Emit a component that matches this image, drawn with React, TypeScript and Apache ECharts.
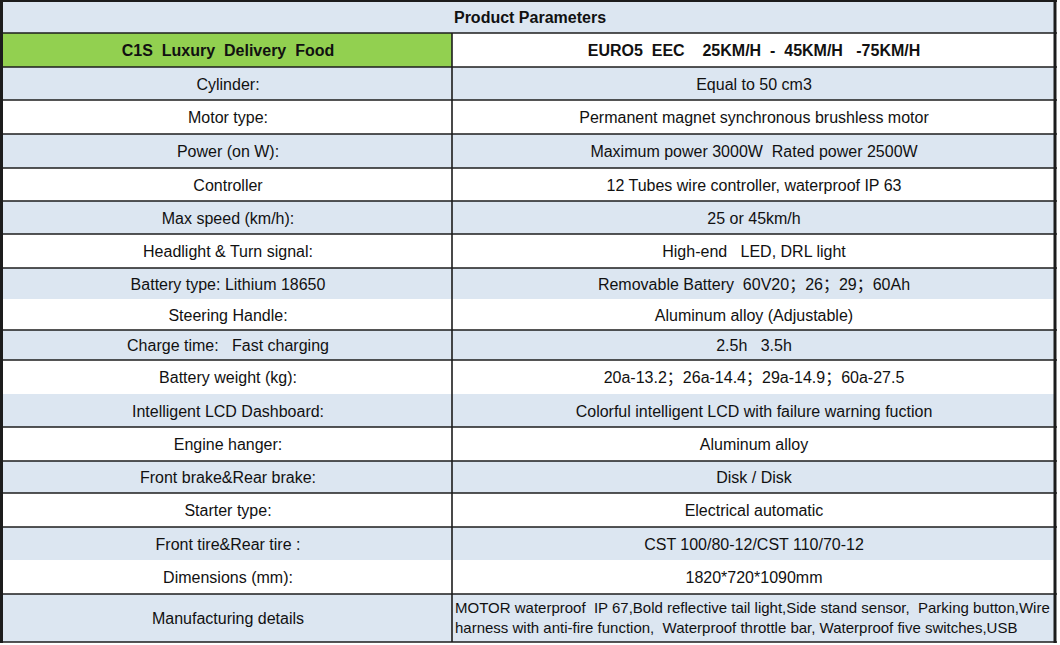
import React, { useEffect, useRef } from "react";
import * as echarts from "echarts";

// ---- Data ----
const tableTitle = "Product Parameters";
const modelName = "C1S  Luxury  Delivery  Food";
const modelSpec = "EURO5  EEC    25KM/H  -  45KM/H   -75KM/H";
const paramNames = [
  "Cylinder:",
  "Motor type:",
  "Power (on W):",
  "Controller",
  "Max speed (km/h):",
  "Headlight & Turn signal:",
  "Battery type: Lithium 18650",
  "Steering Handle:",
  "Charge time:   Fast charging",
  "Battery weight (kg):",
  "Intelligent LCD Dashboard:",
  "Engine hanger:",
  "Front brake&Rear brake:",
  "Starter type:",
  "Front tire&Rear tire :",
  "Dimensions (mm):",
];
const paramValues = [
  "Equal to 50 cm3",
  "Permanent magnet synchronous brushless motor",
  "Maximum power 3000W  Rated power 2500W",
  "12 Tubes wire controller, waterproof IP 63",
  "25 or 45km/h",
  "High-end   LED, DRL light",
  "Removable Battery  60V20；26；29；60Ah",
  "Aluminum alloy (Adjustable)",
  "2.5h   3.5h",
  "20a-13.2；26a-14.4；29a-14.9；60a-27.5",
  "Colorful intelligent LCD with failure warning fuction",
  "Aluminum alloy",
  "Disk / Disk",
  "Electrical automatic",
  "CST 100/80-12/CST 110/70-12",
  "1820*720*1090mm",
];
const detailsName = "Manufacturing details";
const detailsLines = [
  "MOTOR waterproof  IP 67,Bold reflective tail light,Side stand sensor,  Parking button,Wire",
  "harness with anti-fire function,  Waterproof throttle bar, Waterproof five switches,USB",
];

// ---- Layout ----
const LEFT = 2;
const MID = 452;
const RIGHT = 1055;
const rowEdges = [1, 33, 67, 100, 134, 168, 201, 234, 268, 299, 330, 360, 394, 427, 461, 493, 527, 560, 594, 642];
const unruledEdges = [9, 12, 17];
const BLUE = "#dce6f1";
const GREEN = "#92d050";
const LINE = "#1c1c1c";
const FONT = "'Liberation Sans', Arial, 'Noto Sans CJK SC', sans-serif";

function buildGraphic() {
  const els: any[] = [];
  const nRows = rowEdges.length - 1;
  const leftC = (LEFT + MID) / 2 + 1;
  const rightC = (MID + RIGHT) / 2 + 0.5;
  // backgrounds
  for (let r = 0; r < nRows; r++) {
    const y0 = rowEdges[r];
    const h = rowEdges[r + 1] - y0;
    if (r === 0 || (r >= 2 && r % 2 === 0)) {
      els.push({ type: "rect", shape: { x: LEFT, y: y0, width: RIGHT - LEFT, height: h }, style: { fill: BLUE }, silent: true });
    }
    if (r === 1) {
      els.push({ type: "rect", shape: { x: LEFT, y: y0, width: MID - LEFT, height: h }, style: { fill: GREEN }, silent: true });
    }
  }
  // horizontal rules
  rowEdges.forEach((y, i) => {
    if (unruledEdges.includes(i)) return;
    els.push({ type: "line", shape: { x1: 0, y1: y, x2: RIGHT + 2, y2: y }, style: { stroke: LINE, lineWidth: i === 0 ? 2 : 1.6 }, silent: true });
  });
  // vertical lines
  els.push({ type: "line", shape: { x1: 1.5, y1: 0, x2: 1.5, y2: rowEdges[nRows] + 1 }, style: { stroke: LINE, lineWidth: 3 }, silent: true });
  els.push({ type: "line", shape: { x1: RIGHT, y1: 0, x2: RIGHT, y2: rowEdges[nRows] + 1 }, style: { stroke: LINE, lineWidth: 3 }, silent: true });
  els.push({ type: "line", shape: { x1: MID, y1: rowEdges[1], x2: MID, y2: rowEdges[nRows] }, style: { stroke: LINE, lineWidth: 1.6 }, silent: true });

  const mid = (r: number) => (rowEdges[r] + rowEdges[r + 1]) / 2 + 0.5;
  const txt = (text: string, x: number, y: number, size: number, bold = false, align = "center") => ({
    type: "text",
    x,
    y,
    silent: true,
    style: { text, fill: "#111", font: `${bold ? "bold " : ""}${size}px ${FONT}`, align, verticalAlign: "middle" },
  });
  els.push(txt(tableTitle, 530, mid(0) - 0.5, 16, true));
  els.push(txt(modelName, leftC, mid(1), 16, true));
  els.push(txt(modelSpec, rightC, mid(1), 16, true));
  paramNames.forEach((n, i) => {
    els.push(txt(n, leftC, mid(i + 2), 16));
    els.push(txt(paramValues[i], rightC, mid(i + 2), 16));
  });
  const lr = nRows - 1;
  els.push(txt(detailsName, leftC, mid(lr), 16));
  const top = rowEdges[lr];
  detailsLines.forEach((l, i) => {
    els.push(txt(l, MID + 3, top + 13 + i * 20, 15, false, "left"));
  });
  return els;
}

export default function App() {
  const ref = useRef<HTMLDivElement>(null);
  useEffect(() => {
    document.body.style.margin = "0";
    const chart = echarts.init(ref.current!, null, { renderer: "svg" });
    chart.setOption({
      animation: false,
      backgroundColor: "#ffffff",
      graphic: { elements: buildGraphic() },
    });
    return () => chart.dispose();
  }, []);
  return <div ref={ref} style={{ position: "fixed", left: 0, top: 0, width: 1060, height: 645 }} />;
}
